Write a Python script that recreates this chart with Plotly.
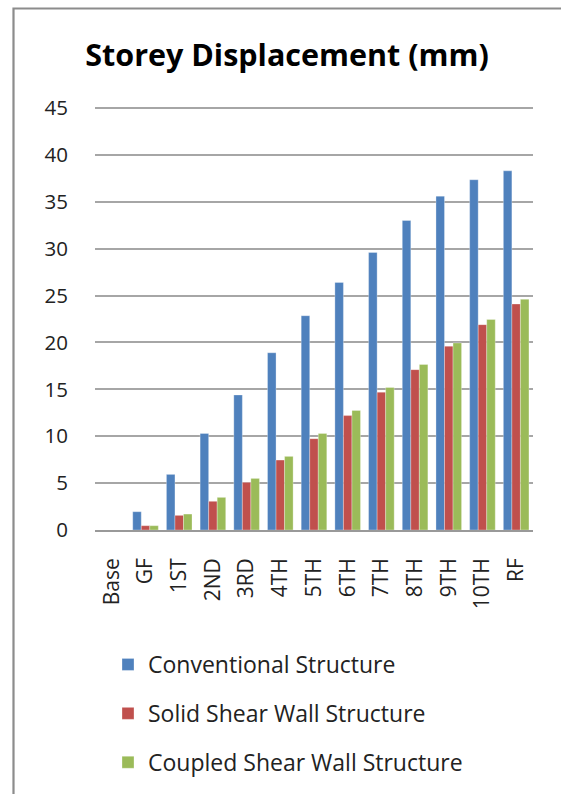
import plotly.graph_objects as go

categories = ["Base", "GF", "1ST", "2ND", "3RD", "4TH", "5TH", "6TH", "7TH", "8TH", "9TH", "10TH", "RF"]
conventional = [0, 1.95, 5.93, 10.3, 14.4, 18.9, 22.85, 26.4, 29.6, 33.0, 35.6, 37.35, 38.3]
solid = [0, 0.46, 1.56, 3.06, 5.08, 7.46, 9.74, 12.2, 14.7, 17.1, 19.6, 21.9, 24.1]
coupled = [0, 0.46, 1.7, 3.48, 5.5, 7.85, 10.3, 12.75, 15.2, 17.65, 19.95, 22.45, 24.6]
series_names = ["Conventional Structure", "Solid Shear Wall Structure", "Coupled Shear Wall Structure"]
colors = ["#4F81BD", "#C0504D", "#9BBB59"]
y_ticks = [0, 5, 10, 15, 20, 25, 30, 35, 40, 45]

FONT = "Open Sans"
fig = go.Figure()
for i, (name, vals) in enumerate(zip(series_names, [conventional, solid, coupled])):
    fig.add_trace(go.Bar(
        x=categories, y=vals, name=name,
        marker=dict(color=colors[i], line=dict(color="rgba(255,255,255,0.5)", width=0.6)),
        legendgroup=str(i),
    ))

W, H = 561, 794
ml, mr, mt, mb = 95, 28, 106, 264
pw = W - ml - mr
ph = H - mt - mb
ytop = 45 * ph / 422.0

def px(x):
    return (x - ml) / pw

def py(y):
    return (H - mb - y) / ph

fig.update_layout(
    width=W, height=H,
    margin=dict(l=ml, r=mr, t=mt, b=mb, autoexpand=False),
    paper_bgcolor="white", plot_bgcolor="white",
    barmode="group", bargap=0.24, bargroupgap=0.0,
    font=dict(family=FONT, color="#222222"),
    title=dict(text="<b>Storey Displacement (mm)</b>", x=(287) / W, xanchor="center",
               y=1 - 55 / H, yanchor="middle",
               font=dict(family=FONT, size=30.5, color="#000000")),
    xaxis=dict(tickangle=-90, tickfont=dict(size=21, color="#222222"), showgrid=False,
               showline=True, linecolor="#999999", linewidth=1.5, ticks="",
               ticklabelstandoff=18, fixedrange=True),
    yaxis=dict(range=[0, ytop], tickvals=y_ticks, tickfont=dict(size=20.5, color="#222222"),
               showgrid=True, gridcolor="#A6A6A6", gridwidth=1.5, zeroline=False,
               ticks="", ticklabelstandoff=26, showline=False),
    legend=dict(x=px(108), y=py(643), xanchor="left", yanchor="top",
                font=dict(size=23, color="#222222"), tracegroupgap=16,
                itemwidth=30, bgcolor="rgba(0,0,0,0)"),
    shapes=[dict(type="rect", xref="paper", yref="paper",
                 x0=px(13.5), x1=px(600), y0=py(8.5), y1=py(850),
                 line=dict(color="#8C8C8C", width=2.2), fillcolor="rgba(0,0,0,0)", layer="below")],
)

fig.write_html("out.html")
